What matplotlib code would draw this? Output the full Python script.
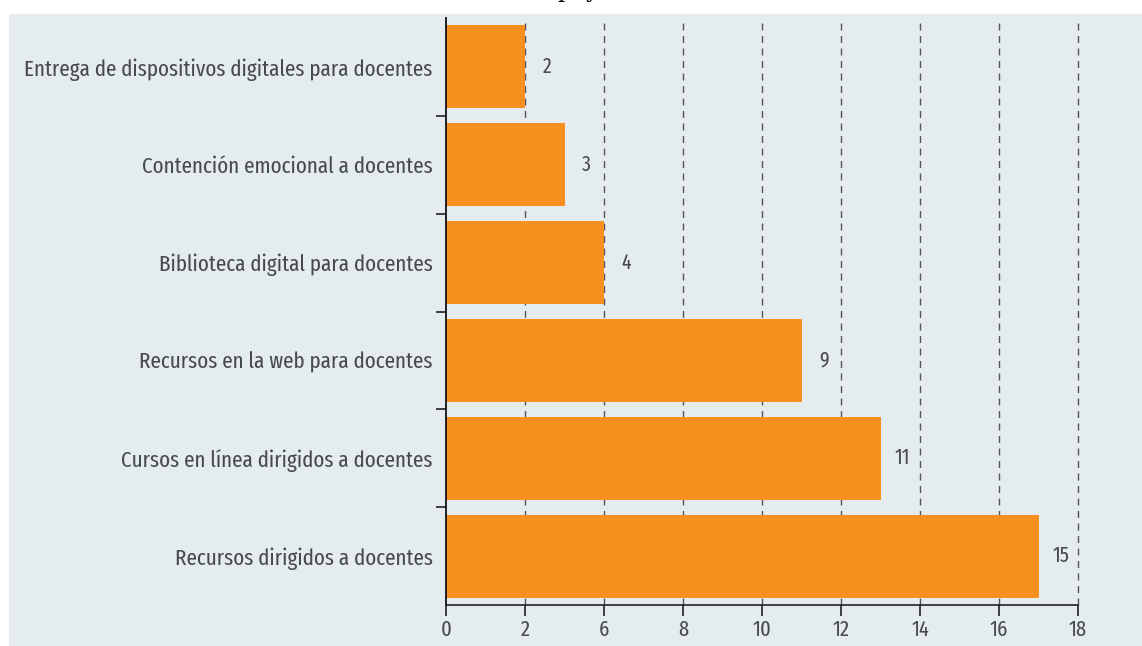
import matplotlib.pyplot as plt
from matplotlib.patches import Rectangle
from matplotlib import font_manager

# Acciones dirigidas a docentes (cantidad de países)
categorias = [
    "Recursos dirigidos a docentes",
    "Cursos en línea dirigidos a docentes",
    "Recursos en la web para docentes",
    "Biblioteca digital para docentes",
    "Contención emocional a docentes",
    "Entrega de dispositivos digitales para docentes",
]
valores = [15, 11, 9, 4, 3, 2]

# Marcas del eje x y sus etiquetas tal como aparecen impresas
marcas_x = [0, 2, 4, 6, 8, 10, 12, 14, 16]
etiquetas_x = ["0", "2", "6", "8", "10", "12", "14", "16", "18"]

# Fuente condensada si está disponible
instaladas = {f.name for f in font_manager.fontManager.ttflist}
fuente = next((f for f in ["Fira Sans Extra Condensed", "Fira Sans Condensed",
                           "IBM Plex Sans Condensed"] if f in instaladas), "DejaVu Sans")
plt.rcParams["font.family"] = [fuente, "DejaVu Sans"]

naranja = "#f7901e"
fondo = "#e5ecef"
gris = "#464b50"

fig = plt.figure(figsize=(11.42, 6.46), dpi=100)
fig.patch.set_facecolor("white")
fig.patches.append(Rectangle((9 / 1142, 0), 1, (646 - 14) / 646,
                             transform=fig.transFigure, facecolor=fondo,
                             edgecolor="none", zorder=-10))

ax = fig.add_axes([446 / 1142, 1 - 605 / 646, (1078 - 446) / 1142, (605 - 18) / 646])
ax.set_facecolor("none")

pos = list(range(len(categorias)))
ax.barh(pos, valores, height=0.85, color=naranja, zorder=2)

for y, v in zip(pos, valores):
    ax.annotate(str(v), (v, y), xytext=(16, 0), textcoords="offset points",
                ha="center", va="center", fontsize=15.5, color=gris)

ax.set_xlim(0, 16)
ax.set_ylim(-0.5, 5.5)

ax.set_xticks(marcas_x)
ax.set_xticklabels(etiquetas_x, fontsize=16, color=gris)
ax.tick_params(axis="x", length=8, width=1.2, color="#222222", pad=2)

ax.set_yticks(pos)
ax.set_yticklabels(categorias, fontsize=16.5, color=gris)
ax.set_yticks([p + 0.5 for p in pos[:-1]], minor=True)
ax.tick_params(axis="y", which="major", length=0, pad=9.5)
ax.tick_params(axis="y", which="minor", length=7, width=1.2, color="#222222")

for x in marcas_x[1:]:
    ax.axvline(x, color="#555555", linestyle=(0, (5, 4)), linewidth=1,
               zorder=1, clip_on=False)

for lado in ["top", "right"]:
    ax.spines[lado].set_visible(False)
ax.spines["left"].set_color("#111111")
ax.spines["left"].set_linewidth(1.3)
ax.spines["bottom"].set_color("#222222")
ax.spines["bottom"].set_linewidth(1.2)

# Restos del texto superior recortado
fig.text(557 / 1142, 1.0 + 3 / 646, "p", fontsize=16, family="DejaVu Serif",
         va="baseline", ha="left", color="black")
fig.text(586 / 1142, 1.0 + 3 / 646, "y", fontsize=16, family="DejaVu Serif",
         va="baseline", ha="left", color="black")

fig.savefig("out.png", dpi=100)
